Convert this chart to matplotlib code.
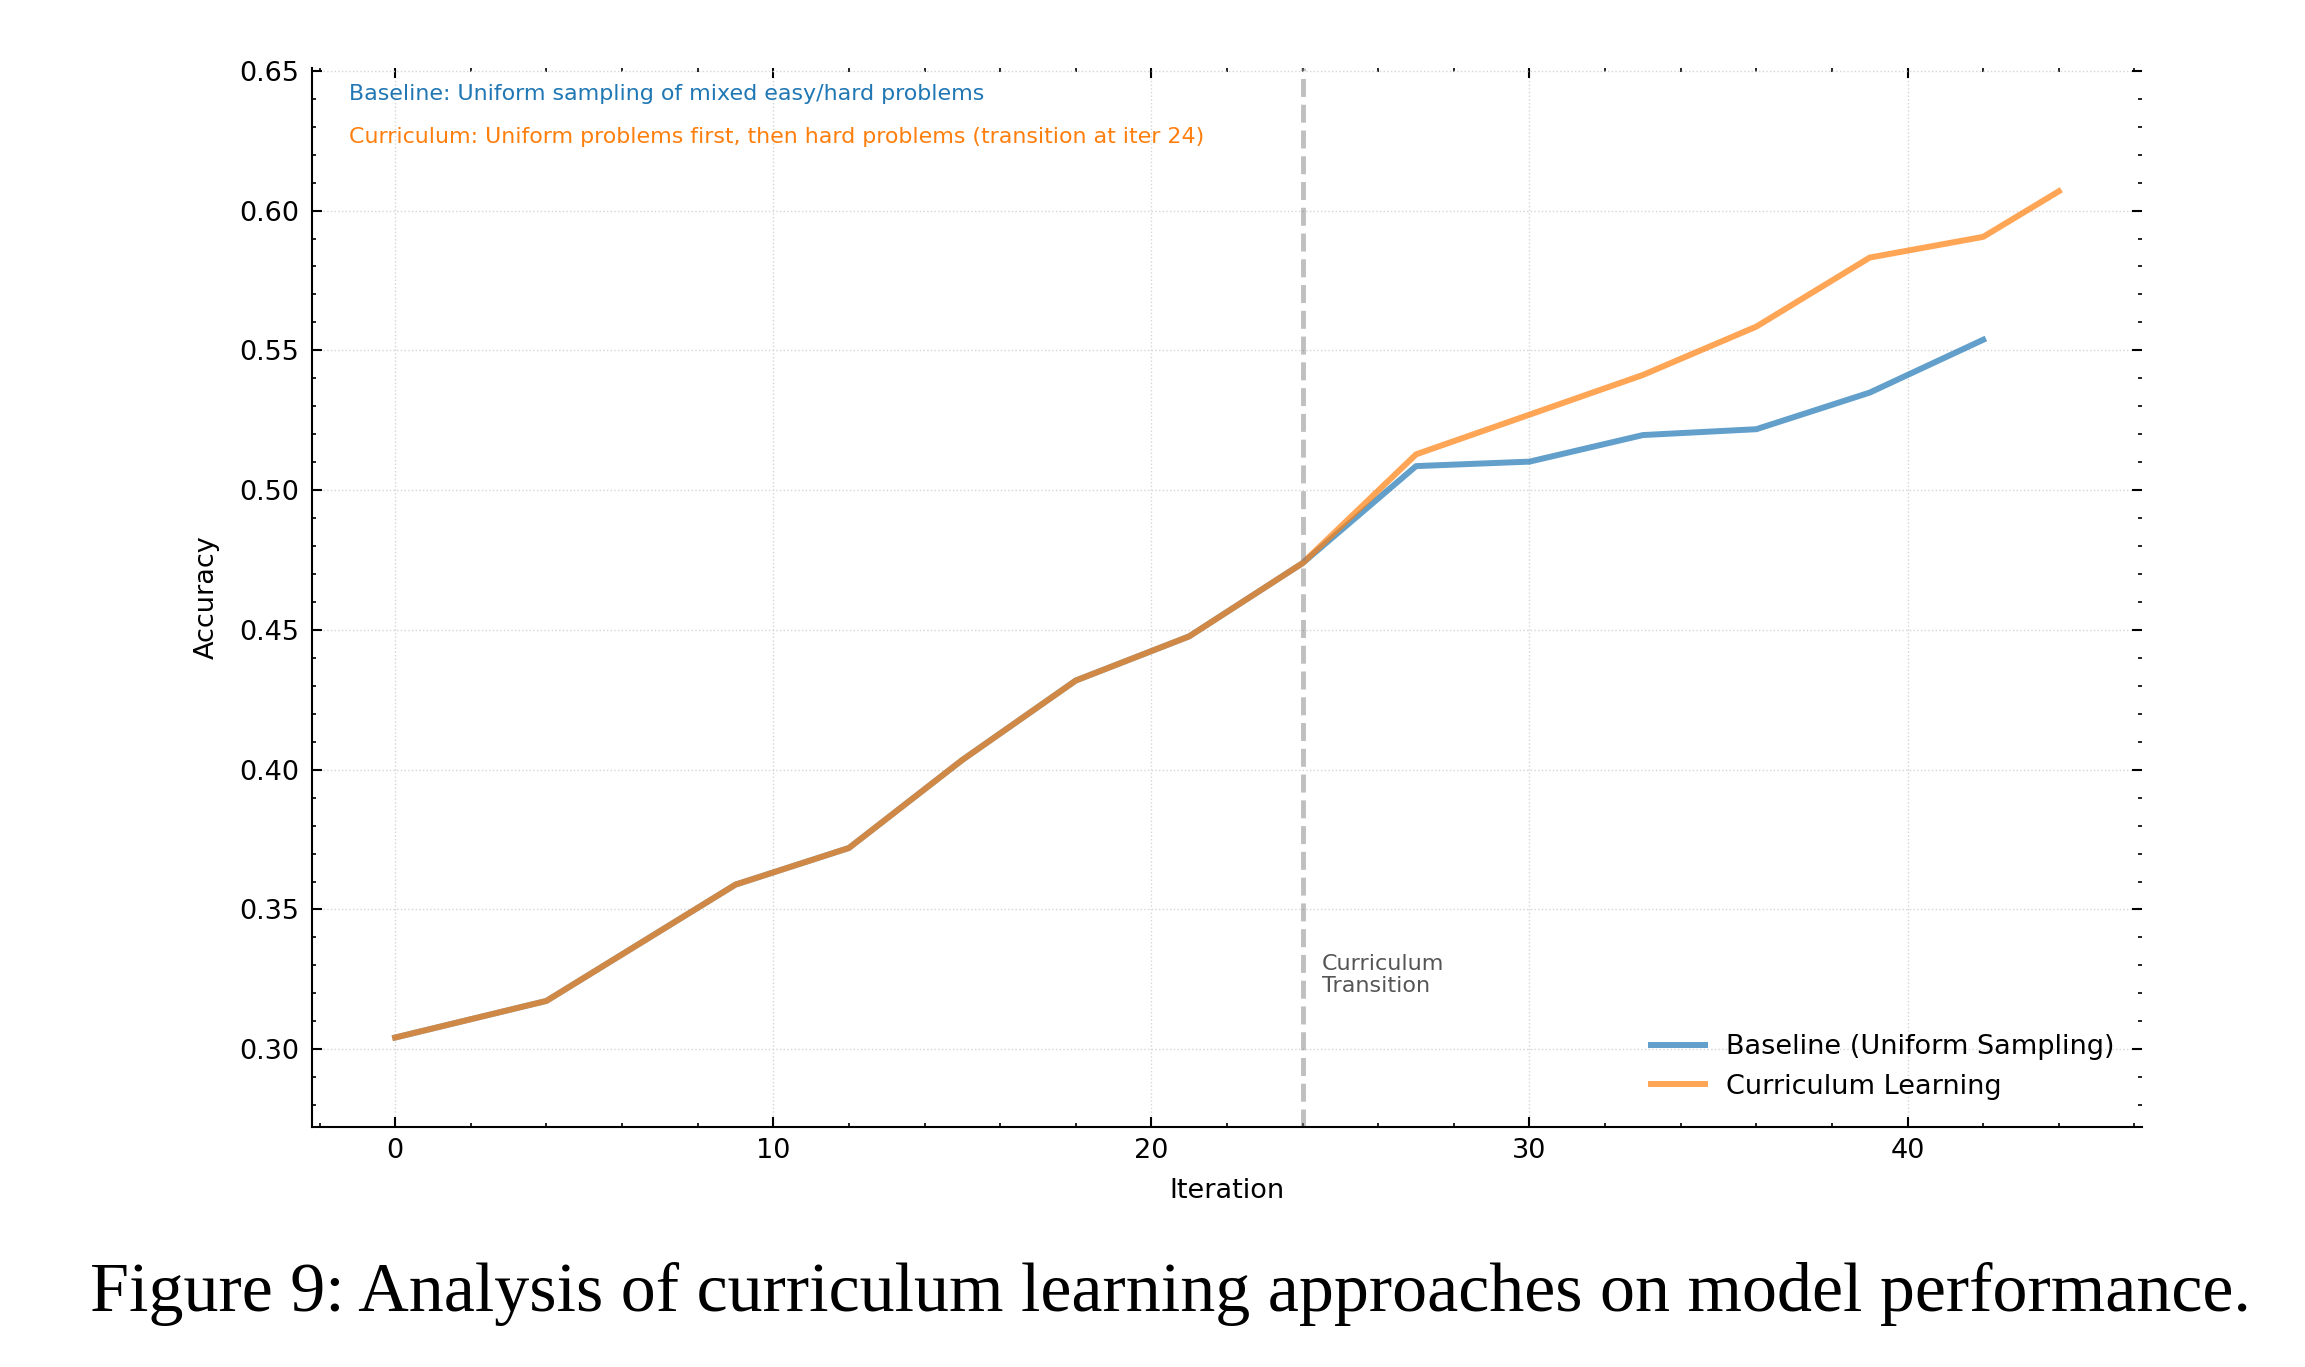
import matplotlib
matplotlib.use("Agg")
import matplotlib.pyplot as plt
from matplotlib.ticker import MultipleLocator

# donnees
iter_base = [0, 4, 9, 12, 15, 18, 21, 24, 27, 30, 33, 36, 39, 42]
acc_base = [0.3042, 0.3173, 0.3589, 0.3720, 0.4035, 0.4319, 0.4477, 0.4739,
            0.5086, 0.5102, 0.5197, 0.5218, 0.5349, 0.5538]
iter_curr = [0, 4, 9, 12, 15, 18, 21, 24, 27, 30, 33, 36, 39, 42, 44]
acc_curr = [0.3042, 0.3173, 0.3589, 0.3720, 0.4035, 0.4319, 0.4477, 0.4739,
            0.5128, 0.5270, 0.5412, 0.5585, 0.5832, 0.5906, 0.6069]
transition = 24
caption = "Figure 9: Analysis of curriculum learning approaches on model performance."

fig = plt.figure(figsize=(23.05, 13.67), dpi=100)
ax = fig.add_axes([312 / 2305, 1 - 1127 / 1367, 1830 / 2305, 1059 / 1367])

ax.plot(iter_base, acc_base, color="tab:blue", alpha=0.7, lw=4.3,
        label="Baseline (Uniform Sampling)")
ax.plot(iter_curr, acc_curr, color="tab:orange", alpha=0.7, lw=4.3,
        label="Curriculum Learning")
ax.axvline(transition, color="gray", alpha=0.5, lw=3.5, ls="--")
ax.text(transition + 0.5, 0.3265, "Curriculum\nTransition", fontsize=16,
        color="#555555", va="center", ha="left", linespacing=1.15)

ax.text(0.02, 0.975, "Baseline: Uniform sampling of mixed easy/hard problems",
        transform=ax.transAxes, color="tab:blue", fontsize=15.9, va="center")
ax.text(0.02, 0.935, "Curriculum: Uniform problems first, then hard problems (transition at iter 24)",
        transform=ax.transAxes, color="tab:orange", fontsize=15.9, va="center")

ax.set_xlim(-2.2, 46.2)
ax.set_ylim(0.2722, 0.651)
ax.xaxis.set_major_locator(MultipleLocator(10))
ax.xaxis.set_minor_locator(MultipleLocator(2))
ax.yaxis.set_major_locator(MultipleLocator(0.05))
ax.yaxis.set_minor_locator(MultipleLocator(0.01))
ax.yaxis.set_major_formatter(plt.FormatStrFormatter("%.2f"))

ax.tick_params(which="both", direction="in", top=True, right=True, labelsize=19.5)
ax.tick_params(which="major", length=7, width=1.5)
ax.tick_params(which="minor", length=3, width=1.2)
ax.tick_params(axis="x", pad=8)
ax.tick_params(axis="y", pad=9)
ax.spines["top"].set_visible(False)
ax.spines["right"].set_visible(False)
ax.spines["left"].set_linewidth(1.5)
ax.spines["bottom"].set_linewidth(1.5)
ax.grid(True, which="major", ls=":", color="#d5d5d5", lw=1.0)

ax.set_xlabel("Iteration", fontsize=19.5, labelpad=10)
ax.set_ylabel("Accuracy", fontsize=19.5, labelpad=14)
ax.legend(loc="lower right", frameon=False, fontsize=19.5, handlelength=2.0,
          borderaxespad=0.6)

# legende de la figure, ajustee en largeur
cap = fig.text(1170 / 2305, 1 - 1294 / 1367, caption, ha="center", va="center",
               family="Liberation Serif", fontsize=40)
fig.canvas.draw()
w = cap.get_window_extent().width
cap.set_fontsize(40 * 2158 / w)

fig.savefig("out.png", dpi=100)
